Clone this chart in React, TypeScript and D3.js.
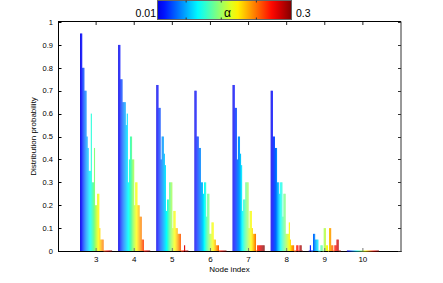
import React from "react";
import * as d3 from "d3";

// ---- data ----
const nodes = [3, 4, 5, 6, 7, 8, 9, 10];
const alphas = [
  0.01, 0.02, 0.03, 0.04, 0.05, 0.06, 0.07, 0.08, 0.09, 0.1,
  0.11, 0.12, 0.13, 0.14, 0.15, 0.16, 0.17, 0.18, 0.19, 0.2,
  0.21, 0.22, 0.23, 0.24, 0.25, 0.26, 0.27, 0.28, 0.29, 0.3,
];
const p3 = [0.95, 0.95, 0.8, 0.8, 0.7, 0.7, 0.5, 0.45, 0.35, 0.35, 0.6, 0.3, 0.3, 0.45, 0.2, 0.2, 0.25, 0.25, 0.1, 0.05, 0.05, 0.05, 0, 0, 0, 0, 0, 0, 0, 0];
const p4 = [0.9, 0.9, 0.75, 0.75, 0.65, 0.65, 0.65, 0.55, 0.6, 0.3, 0.4, 0.5, 0.5, 0.4, 0.4, 0.2, 0.3, 0.3, 0.2, 0.2, 0.15, 0.15, 0.05, 0.05, 0, 0, 0, 0, 0, 0];
const p5 = [0.725, 0.725, 0.625, 0.625, 0.4, 0.5, 0.5, 0.425, 0.375, 0.175, 0.225, 0.225, 0.3, 0.3, 0.3, 0.1, 0.175, 0.175, 0.1, 0.1, 0.075, 0.075, 0.075, 0, 0, 0, 0.025, 0, 0, 0];
const p6 = [0.7, 0.7, 0.5, 0.5, 0.45, 0.45, 0.3, 0.3, 0.25, 0.3, 0.3, 0.15, 0.25, 0.25, 0.075, 0.075, 0.125, 0.125, 0.05, 0.05, 0.025, 0.025, 0.025, 0, 0, 0, 0, 0, 0, 0];
const p7 = [0.725, 0.725, 0.625, 0.625, 0.4, 0.5, 0.5, 0.425, 0.375, 0.175, 0.225, 0.225, 0.3, 0.3, 0.3, 0.1, 0.175, 0.175, 0.1, 0.075, 0.075, 0.075, 0, 0.025, 0.025, 0.025, 0.025, 0.025, 0.025, 0.025];
const p8 = [0.7, 0.7, 0.5, 0.5, 0.45, 0.45, 0.3, 0.3, 0.25, 0.3, 0.3, 0.15, 0.25, 0.25, 0.075, 0.075, 0.075, 0.125, 0.05, 0.025, 0.025, 0.025, 0, 0, 0.025, 0.025, 0, 0.025, 0.025, 0];
const p9 = [0, 0.025, 0, 0, 0.075, 0.075, 0.05, 0.05, 0.05, 0, 0, 0.025, 0.025, 0, 0.1, 0.1, 0.025, 0.025, 0, 0.1, 0.1, 0.025, 0.025, 0, 0.025, 0.025, 0.05, 0.05, 0, 0];
const p10 = [0, 0, 0, 0, 0, 0, 0, 0, 0, 0, 0, 0, 0, 0, 0, 0, 0, 0, 0, 0, 0, 0, 0, 0, 0, 0, 0, 0, 0, 0];
const yTicks = [0, 0.1, 0.2, 0.3, 0.4, 0.5, 0.6, 0.7, 0.8, 0.9, 1];
const yTickLabels = ["0", "0.1", "0.2", "0.3", "0.4", "0.5", "0.6", "0.7", "0.8", "0.9", "1"];
const colorbarTicks = [0.072, 0.148, 0.224];
const colorbarLabels = ["0.01", "0.3"];

const series = [p3, p4, p5, p6, p7, p8, p9, p10];

const FONT = "'Liberation Sans', Arial, Helvetica, sans-serif";

export default function App() {
  const W = 443;
  const H = 283;
  const x = d3.scaleLinear().domain([2, 11]).range([58, 401]);
  const y = d3.scaleLinear().domain([0, 1]).range([251, 22]);
  const step = x(3) - x(2);
  const inner = d3
    .scaleBand<number>()
    .domain(alphas)
    .range([-0.42 * step, 0.42 * step])
    .padding(0);
  const jet = d3
    .scaleLinear<string>()
    .domain([0, 0.125, 0.375, 0.625, 0.875, 1])
    .range(["#000080", "#0000ff", "#00ffff", "#ffff00", "#ff0000", "#800000"])
    .interpolate(d3.interpolateRgb);
  const tOf = d3.scaleLinear().domain([alphas[0], alphas[alphas.length - 1]]).range([0.1, 1]);
  const cb = d3.scaleLinear().domain([alphas[0], alphas[alphas.length - 1]]).range([157.5, 291.5]);
  const stops = d3.range(0, 1.0001, 0.05);

  const bars: React.ReactNode[] = [];
  const zeroBars: React.ReactNode[] = [];
  nodes.forEach((n, gi) => {
    const vals = series[gi];
    alphas.forEach((a, i) => {
      const v = vals[i];
      const bx = x(n) + (inner(a) as number);
      const bw = inner.bandwidth();
      const color = jet(tOf(a));
      if (v > 0) {
        bars.push(
          <rect key={`b${n}-${i}`} x={bx} y={y(v)} width={bw} height={y(0) - y(v)} fill={color} />
        );
      } else {
        zeroBars.push(
          <rect key={`z${n}-${i}`} x={bx} y={y(0) - 0.5} width={bw} height={1} fill={color} />
        );
      }
    });
  });

  const x0 = x(2), x1 = x(11), yT = y(1), yB = y(0);

  return (
    <svg
      width={W}
      height={H}
      style={{ position: "absolute", left: 0, top: 0, background: "#fff" }}
      fontFamily={FONT}
    >
      <defs>
        <linearGradient id="jetgrad" x1="0" x2="1" y1="0" y2="0">
          {stops.map((s) => (
            <stop key={s} offset={`${s * 100}%`} stopColor={jet(0.1 + 0.9 * s)} />
          ))}
        </linearGradient>
      </defs>
      <rect x={0} y={0} width={W} height={H} fill="#fff" />
      {bars}
      {/* axes box */}
      <line x1={x0 + 0.5} x2={x0 + 0.5} y1={yT - 0.5} y2={yB + 1} stroke="#000" strokeWidth={1} />
      <line x1={x0} x2={x1 + 0.5} y1={yB + 0.5} y2={yB + 0.5} stroke="#000" strokeWidth={1} />
      <line x1={x0} x2={x1} y1={yT - 0.5} y2={yT - 0.5} stroke="#000" strokeWidth={1} />
      <line x1={x1} x2={x1} y1={yT - 0.5} y2={yB + 1} stroke="#333" strokeWidth={1} />
      {zeroBars}
      {/* y ticks */}
      {yTicks.map((t, i) => (
        <g key={`yt${i}`}>
          <line x1={x0 + 0.5} x2={x0 + 3.5} y1={Math.round(y(t)) + 0.5} y2={Math.round(y(t)) + 0.5} stroke="#000" strokeWidth={1} />
          <line x1={x1 - 3} x2={x1} y1={Math.round(y(t)) + 0.5} y2={Math.round(y(t)) + 0.5} stroke="#333" strokeWidth={1} />
          <text x={53} y={y(t) + 2.7} fontSize={7.5} textAnchor="end" fill="#000">
            {yTickLabels[i]}
          </text>
        </g>
      ))}
      {/* x ticks */}
      {nodes.map((n) => (
        <g key={`xt${n}`}>
          <line x1={x(n)} x2={x(n)} y1={yB} y2={yB - 3} stroke="#777" strokeWidth={1} />
          <line x1={x(n)} x2={x(n)} y1={yT} y2={yT + 3} stroke="#222" strokeWidth={1} />
          <text x={x(n)} y={262} fontSize={8} textAnchor="middle" fill="#000">
            {n}
          </text>
        </g>
      ))}
      <text x={(x0 + x1) / 2} y={272} fontSize={8} textAnchor="middle" fill="#000">
        Node index
      </text>
      <text
        transform={`translate(36,${(yT + yB) / 2}) rotate(-90)`}
        fontSize={8}
        textAnchor="middle"
        fill="#000"
      >
        Distribution probability
      </text>
      {/* colorbar */}
      <rect x={cb(alphas[0])} y={0.5} width={cb(alphas[alphas.length - 1]) - cb(alphas[0])} height={19} fill="url(#jetgrad)" stroke="#666" strokeWidth={1} />
      {colorbarTicks.map((t, i) => (
        <g key={`cbt${i}`}>
          <line x1={cb(t)} x2={cb(t)} y1={0.5} y2={2.5} stroke="#333" strokeWidth={1} />
          <line x1={cb(t)} x2={cb(t)} y1={17.5} y2={19.5} stroke="#333" strokeWidth={1} />
        </g>
      ))}
      <text x={cb(alphas[0]) - 1.5} y={16.5} fontSize={10.5} textAnchor="end" fill="#000">
        {colorbarLabels[0]}
      </text>
      <text x={cb(alphas[alphas.length - 1]) + 4.5} y={16.5} fontSize={10.5} textAnchor="start" fill="#000">
        {colorbarLabels[1]}
      </text>
      <text x={227.5} y={16.5} fontSize={12} textAnchor="middle" fill="#000">
        α
      </text>
    </svg>
  );
}
